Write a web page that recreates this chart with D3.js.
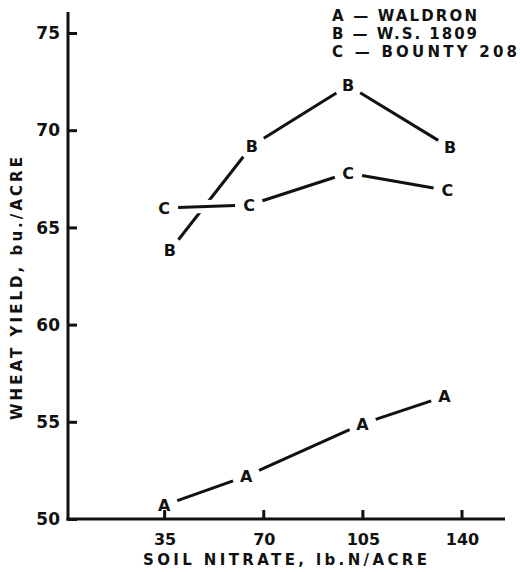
<!DOCTYPE html>
<html><head><meta charset="utf-8">
<script src="https://cdn.jsdelivr.net/npm/d3@7"></script>
<style>body{margin:0;background:#fff}text{font-family:"DejaVu Sans",sans-serif;font-weight:bold;fill:#111}</style>
</head><body>
<script>
const xTicks = [35, 70, 105, 140];
const yTicks = [50, 55, 60, 65, 70, 75];
const legendLabels = ["A \u2014 WALDRON", "B \u2014 W.S. 1809", "C \u2014 BOUNTY 208"];
const waldronX = [35, 64, 105, 134];
const waldronY = [50.7, 52.2, 54.9, 56.3];
const ws1809X = [37, 66, 100, 136];
const ws1809Y = [63.8, 69.2, 72.3, 69.1];
const bountyX = [35, 65, 100, 135];
const bountyY = [66.0, 66.15, 67.8, 66.9];
const xTitle = "SOIL NITRATE, lb.N/ACRE";
const yTitle = "WHEAT  YIELD, bu./ACRE";

const W = 520, H = 572;
const svg = d3.select("body").append("svg").attr("width", W).attr("height", H);
const x = d3.scaleLinear().domain([0, 155]).range([65, 504]);
const y = d3.scaleLinear().domain([50, 75]).range([519, 33]);
const axisX = 68, axisY = 519, axisTop = 12;

svg.append("line").attr("x1", axisX).attr("x2", axisX).attr("y1", axisTop).attr("y2", axisY + 1.5)
  .attr("stroke", "#111").attr("stroke-width", 3);
svg.append("line").attr("x1", axisX - 1.5).attr("x2", 505).attr("y1", axisY).attr("y2", axisY)
  .attr("stroke", "#111").attr("stroke-width", 3);

const yAxis = d3.axisRight(y).tickValues(yTicks).tickSize(9).tickFormat("");
const gy = svg.append("g").attr("transform", `translate(${axisX},0)`).call(yAxis);
gy.select(".domain").remove();
gy.selectAll(".tick line").attr("stroke", "#111").attr("stroke-width", 3);
svg.selectAll(".ylab").data(yTicks).enter().append("text")
  .attr("x", 60).attr("y", d => y(d)).attr("dy", "0.36em")
  .attr("text-anchor", "end").attr("font-size", 17).text(d => d);

const xAxis = d3.axisTop(x).tickValues(xTicks).tickSize(9).tickFormat("");
const gx = svg.append("g").attr("transform", `translate(0,${axisY})`).call(xAxis);
gx.select(".domain").remove();
gx.selectAll(".tick line").attr("stroke", "#111").attr("stroke-width", 3);
svg.selectAll(".xlab").data(xTicks).enter().append("text")
  .attr("x", d => x(d) + 1).attr("y", 545)
  .attr("text-anchor", "middle").attr("font-size", 16).text(d => d);

svg.append("text").attr("x", 143).attr("y", 565)
  .attr("font-size", 15).attr("textLength", 284).attr("lengthAdjust", "spacing").text(xTitle);
svg.append("text").attr("transform", "translate(22,420) rotate(-90)")
  .attr("font-size", 15).attr("textLength", 263).attr("lengthAdjust", "spacing").text(yTitle);

const legendLen = [145, 145, 185];
svg.selectAll(".leg").data(legendLabels).enter().append("text")
  .attr("x", 332).attr("y", (d, i) => 21 + i * 18)
  .attr("font-size", 15).attr("textLength", (d, i) => legendLen[i]).attr("lengthAdjust", "spacing").text(d => d);

const series = [
  {name: "A", xs: waldronX, ys: waldronY, halo: false},
  {name: "B", xs: ws1809X, ys: ws1809Y, halo: false},
  {name: "C", xs: bountyX, ys: bountyY, halo: true}
];
const gap = 14;
series.forEach(s => {
  const pts = s.xs.map((v, i) => [x(v), y(s.ys[i])]);
  for (let i = 0; i < pts.length - 1; i++) {
    const [x1, y1] = pts[i], [x2, y2] = pts[i + 1];
    const L = Math.hypot(x2 - x1, y2 - y1);
    const ux = (x2 - x1) / L, uy = (y2 - y1) / L;
    const seg = [x1 + ux * gap, y1 + uy * gap, x2 - ux * gap, y2 - uy * gap];
    if (s.halo) {
      svg.append("line").attr("x1", seg[0]).attr("y1", seg[1]).attr("x2", seg[2]).attr("y2", seg[3])
        .attr("stroke", "#fff").attr("stroke-width", 13);
    }
    svg.append("line").attr("x1", seg[0]).attr("y1", seg[1]).attr("x2", seg[2]).attr("y2", seg[3])
      .attr("stroke", "#111").attr("stroke-width", 3);
  }
  svg.selectAll(null).data(pts).enter().append("text")
    .attr("x", d => d[0]).attr("y", d => d[1]).attr("dy", "0.36em")
    .attr("text-anchor", "middle").attr("font-size", 16).text(s.name);
});
</script>
</body></html>
